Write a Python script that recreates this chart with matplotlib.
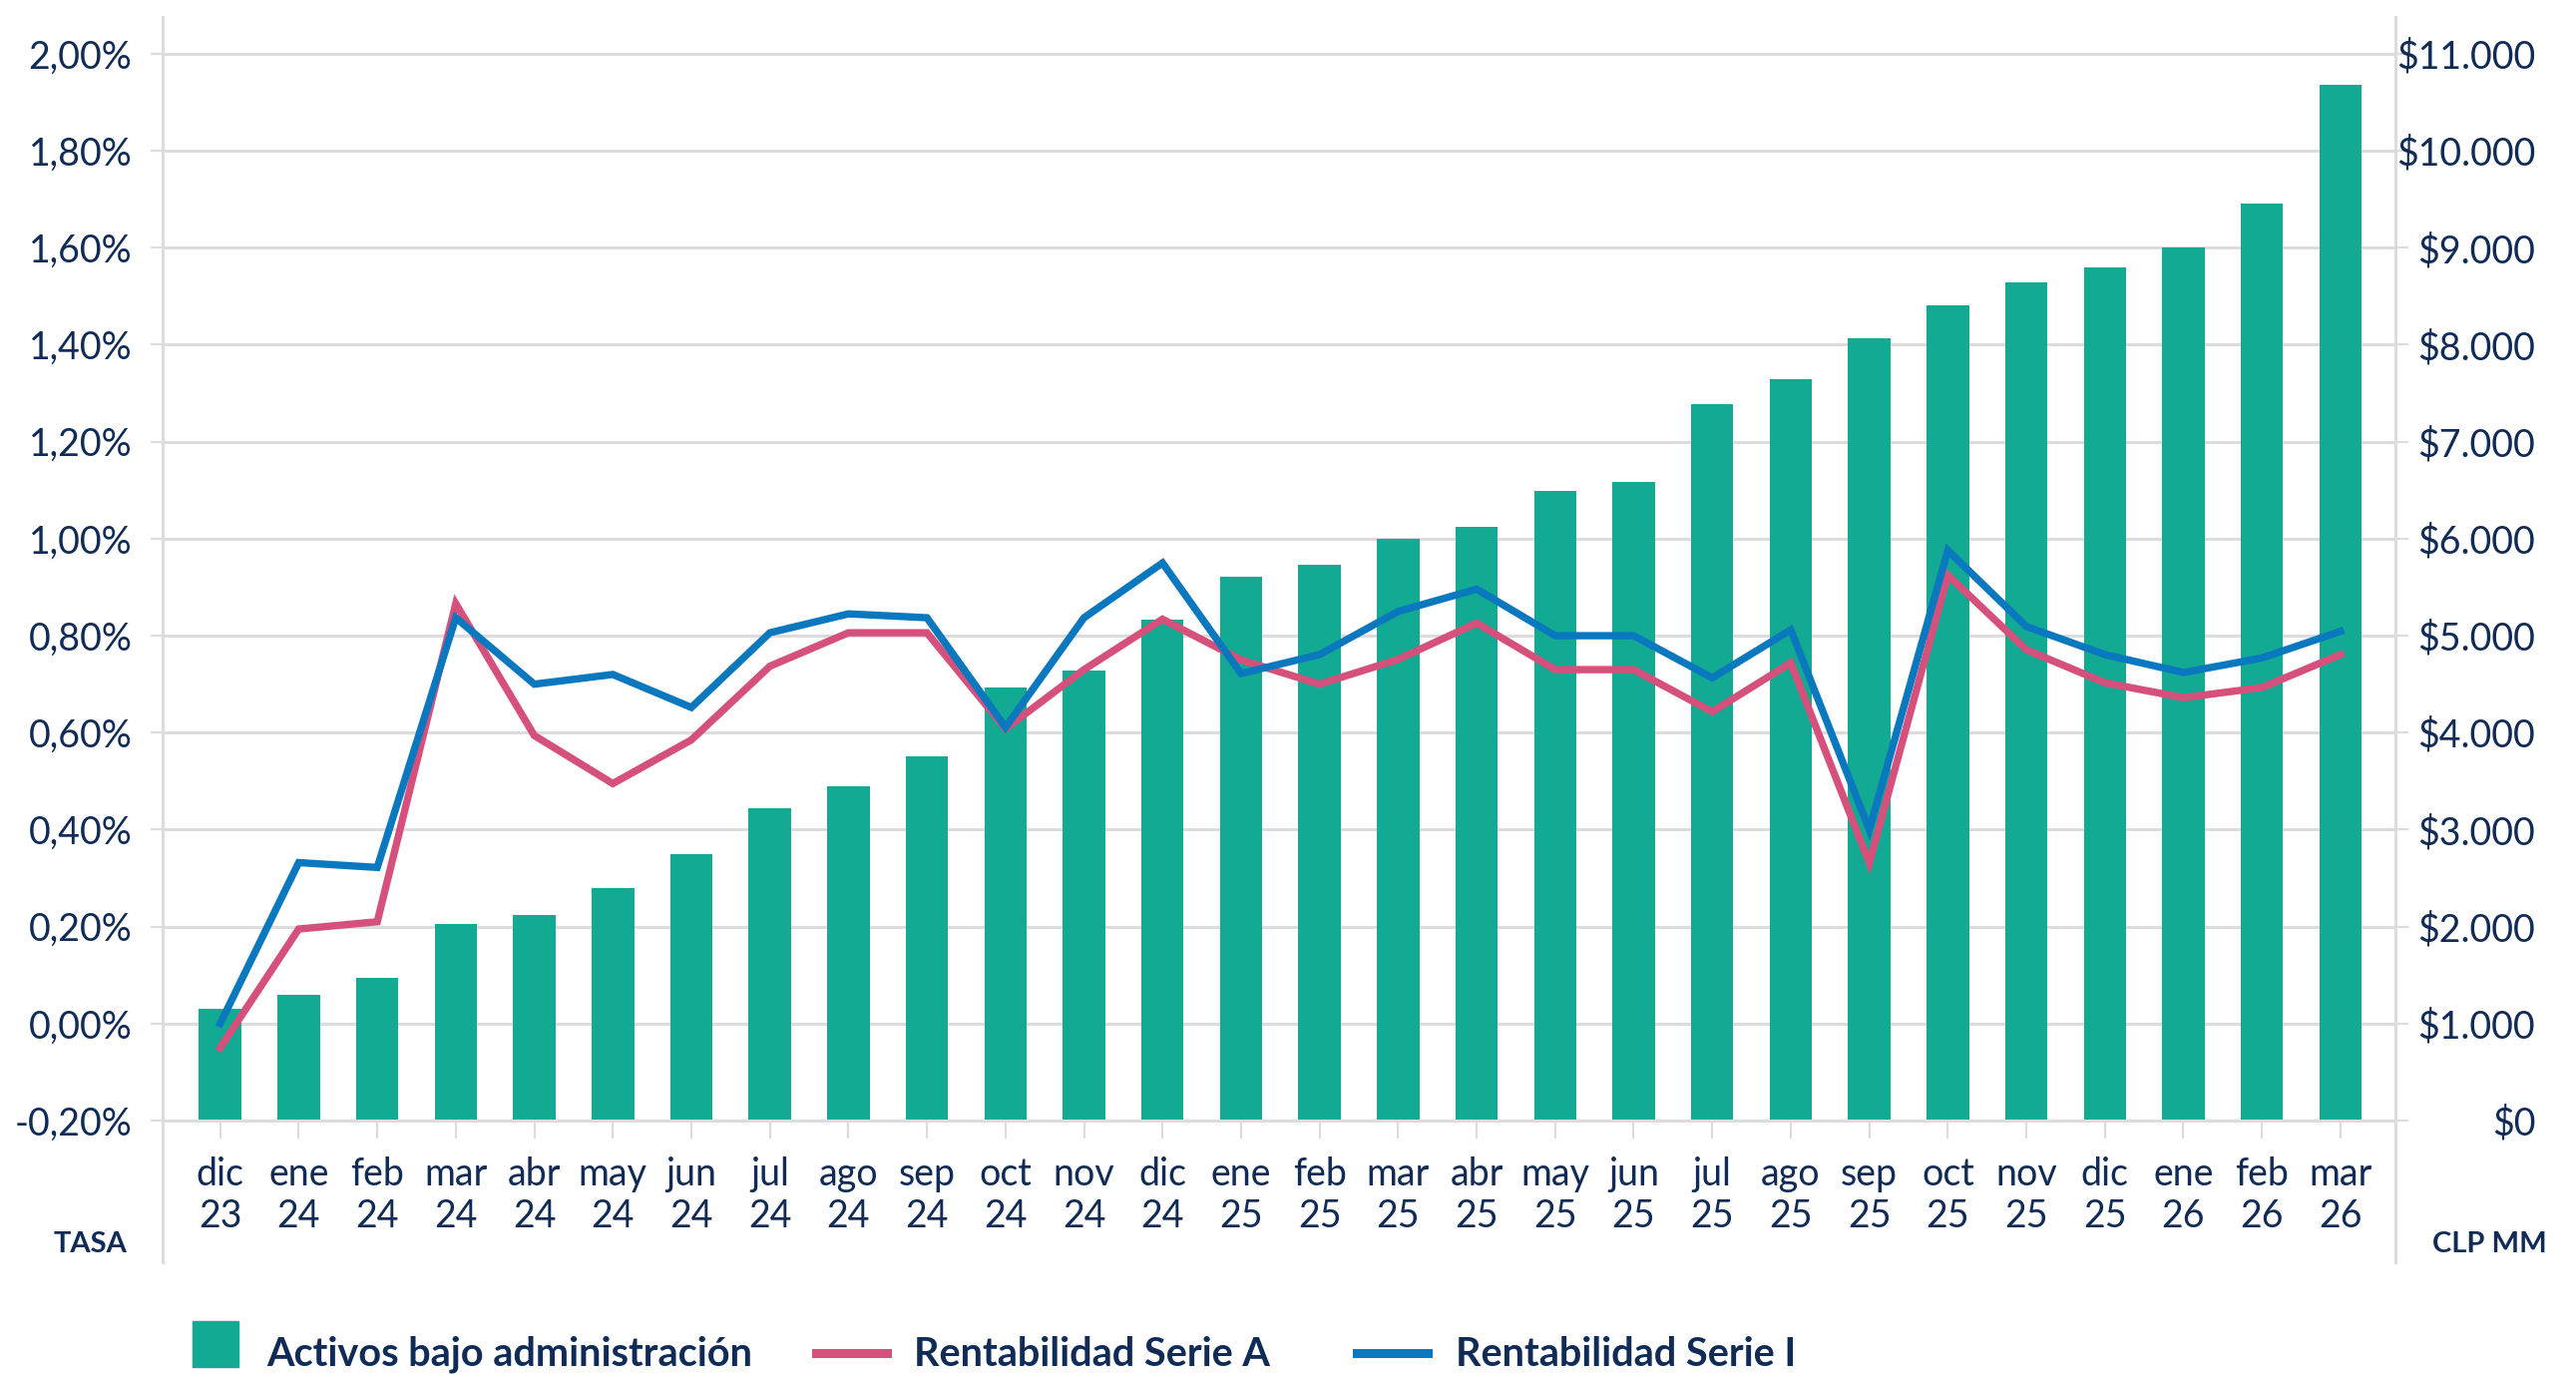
import matplotlib
matplotlib.use("Agg")
import matplotlib.pyplot as plt
from matplotlib.lines import Line2D
from matplotlib.patches import Rectangle
from matplotlib.ticker import FuncFormatter
import numpy as np

# datos
meses = ['dic', 'ene', 'feb', 'mar', 'abr', 'may', 'jun', 'jul', 'ago', 'sep', 'oct', 'nov',
         'dic', 'ene', 'feb', 'mar', 'abr', 'may', 'jun', 'jul', 'ago', 'sep', 'oct', 'nov',
         'dic', 'ene', 'feb', 'mar']
anios = ['23', '24', '24', '24', '24', '24', '24', '24', '24', '24', '24', '24',
         '24', '25', '25', '25', '25', '25', '25', '25', '25', '25', '25', '25',
         '25', '26', '26', '26']

# activos bajo administracion, CLP MM
activos = [1150, 1300, 1470, 2030, 2120, 2400, 2750, 3220, 3450, 3760, 4470, 4640,
           5170, 5610, 5730, 6000, 6120, 6490, 6590, 7390, 7640, 8070, 8410, 8640,
           8800, 9000, 9460, 10680]

# rentabilidad mensual, %
serie_a = [-0.05, 0.195, 0.21, 0.866, 0.594, 0.495, 0.585, 0.737, 0.806, 0.806, 0.608, 0.73,
           0.834, 0.75, 0.70, 0.751, 0.826, 0.73, 0.73, 0.643, 0.744, 0.331, 0.925, 0.771,
           0.703, 0.672, 0.693, 0.761]
serie_i = [0.0, 0.332, 0.322, 0.837, 0.70, 0.72, 0.652, 0.806, 0.845, 0.837, 0.611, 0.837,
           0.95, 0.722, 0.761, 0.85, 0.896, 0.80, 0.80, 0.713, 0.812, 0.40, 0.976, 0.819,
           0.761, 0.724, 0.754, 0.809]

tasa_ticks = [-0.2, 0.0, 0.2, 0.4, 0.6, 0.8, 1.0, 1.2, 1.4, 1.6, 1.8, 2.0]
clp_ticks = list(range(0, 11001, 1000))

verde = '#13AA93'
rosa = '#D6507C'
azul = '#0A78BE'
navy = '#0F2B56'
gris = '#DCDCDC'

plt.rcParams['font.family'] = ['Lato', 'DejaVu Sans']

W, H = 2582, 1377
fig = plt.figure(figsize=(W / 100, H / 100), dpi=100)


def fx(px):
    return px / W


def fy(py):
    return 1 - py / H


# ejes: izquierda 163px, derecha 2401px, arriba 17px, abajo 1123px
ax = fig.add_axes([fx(163), fy(1123), fx(2401) - fx(163), fy(17) - fy(1123)])
ax2 = ax.twinx()

x = np.arange(len(meses))
ymin, ymax = -0.2, 2.076

# barras en eje derecho (CLP MM)
ax2.bar(x, activos, width=0.54, color=verde, zorder=2)
ax2.set_ylim((ymin + 0.2) * 5000, (ymax + 0.2) * 5000)
ax2.set_yticks(clp_ticks)
ax2.yaxis.set_major_formatter(FuncFormatter(lambda v, p: '$' + f'{int(v):,}'.replace(',', '.')))
ax2.grid(axis='y', color=gris, linewidth=2.2, zorder=0)
ax2.set_axisbelow(True)
for s in ax2.spines.values():
    s.set_visible(False)
ax2.tick_params(axis='y', direction='out', length=9, width=1.6, color=gris,
                labelsize=27, labelcolor=navy, pad=92)
for lab in ax2.get_yticklabels():
    lab.set_horizontalalignment('right')

# lineas en eje izquierdo (tasa)
ax.set_zorder(ax2.get_zorder() + 1)
ax.patch.set_visible(False)
ax.plot(x, serie_a, color=rosa, linewidth=5.3, solid_joinstyle='miter', zorder=3)
ax.plot(x, serie_i, color=azul, linewidth=5.3, solid_joinstyle='miter', zorder=4)
ax.set_ylim(ymin, ymax)
ax.set_xlim(-0.733, 27.70)
ax.set_yticks(tasa_ticks)
ax.set_yticklabels([f'{v:.2f}%'.replace('.', ',') for v in tasa_ticks])
ax.set_xticks(x)
ax.set_xticklabels([m + '\n' + a for m, a in zip(meses, anios)], linespacing=1.22)
ax.tick_params(axis='y', direction='out', length=9, width=1.6, color=gris,
               labelsize=27, labelcolor=navy, pad=13)
ax.tick_params(axis='x', direction='out', length=13, width=1.6, color=gris,
               labelsize=27, labelcolor=navy, pad=13)
ax.spines['top'].set_visible(False)
for side in ['left', 'right', 'bottom']:
    ax.spines[side].set_color(gris)
    ax.spines[side].set_linewidth(2.2)

# prolongar ejes verticales hacia abajo
ext = -(1265 - 1123) / (1123 - 17)
for xa in [0, 1]:
    ax.add_line(Line2D([xa, xa], [ext, 0], transform=ax.transAxes, color=gris,
                       linewidth=2.2, clip_on=False))

fig.text(fx(128), fy(1247), 'TASA', ha='right', va='center', fontsize=21,
         fontweight='bold', color=navy)
fig.text(fx(2553), fy(1247), 'CLP MM', ha='right', va='center', fontsize=21,
         fontweight='bold', color=navy)

# leyenda
base = fy(1369)
fig.patches.append(Rectangle((fx(193), fy(1370)), fx(239) - fx(193), fy(1324) - fy(1370),
                             transform=fig.transFigure, color=verde))
fig.text(fx(267), base, 'Activos bajo administración', ha='left', va='baseline',
         fontsize=28.5, fontweight='bold', color=navy)
fig.lines.append(Line2D([fx(818), fx(889)], [fy(1356), fy(1356)], transform=fig.transFigure,
                        color=rosa, linewidth=6.5))
fig.text(fx(916), base, 'Rentabilidad Serie A', ha='left', va='baseline',
         fontsize=28.5, fontweight='bold', color=navy)
fig.lines.append(Line2D([fx(1360), fx(1431)], [fy(1356), fy(1356)], transform=fig.transFigure,
                        color=azul, linewidth=6.5))
fig.text(fx(1459), base, 'Rentabilidad Serie I', ha='left', va='baseline',
         fontsize=28.5, fontweight='bold', color=navy)

fig.savefig('out.png', dpi=100)
